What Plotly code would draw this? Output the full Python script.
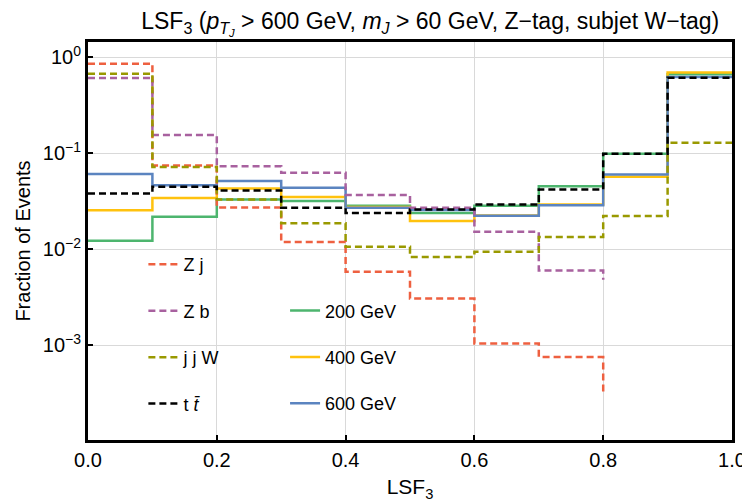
import plotly.graph_objects as go

edges = [0.0, 0.1, 0.2, 0.3, 0.4, 0.5, 0.6, 0.7, 0.8, 0.9, 1.0]

# background fractions per bin (Zj, Zb stop at 0.8 with a final drop value)
zj = [0.86, 0.0744, 0.0272, 0.0119, 0.0058, 0.00306, 0.00104, 0.00075]
zj_tail = 0.0003
zb = [0.61, 0.155, 0.073, 0.0625, 0.0366, 0.027, 0.0152, 0.006]
zb_tail = 0.0048
jjw = [0.676, 0.072, 0.033, 0.0186, 0.0106, 0.0083, 0.0094, 0.0134, 0.0222, 0.129]
ttbar = [0.0381, 0.0448, 0.041, 0.027, 0.0238, 0.0259, 0.0292, 0.0419, 0.099, 0.614]
# signal fractions
s200 = [0.0122, 0.0218, 0.033, 0.0318, 0.0283, 0.0238, 0.0283, 0.0453, 0.099, 0.665]
s400 = [0.0254, 0.0342, 0.0429, 0.035, 0.0275, 0.0197, 0.0225, 0.0292, 0.0568, 0.693]
s600 = [0.0608, 0.0464, 0.0515, 0.0437, 0.027, 0.0256, 0.0223, 0.0287, 0.0601, 0.624]

FONT = "Liberation Sans, Arial, sans-serif"
fig = go.Figure()

def step(vals, tail=None):
    if tail is None:
        return edges[:len(vals) + 1], list(vals) + [vals[-1]]
    return edges[:len(vals) + 1], list(vals) + [tail]

solid = [("200 GeV", s200, "#4DB56E"), ("400 GeV", s400, "#FFC20E"), ("600 GeV", s600, "#5B84C0")]
for i, (name, vals, col) in enumerate(solid):
    x, y = step(vals)
    fig.add_trace(go.Scatter(x=x, y=y, mode="lines", line=dict(shape="hv", color=col, width=2.5),
                             name=name, legend="legend2", legendgroup=name, legendrank=i + 1))

dashed = [("Z j", zj, zj_tail, "#EE6040"), ("Z b", zb, zb_tail, "#A8619F"),
          ("j j W", jjw, None, "#999900"), ("t <i>t&#772;</i>", ttbar, None, "#000000")]
for i, (name, vals, tail, col) in enumerate(dashed):
    x, y = step(vals, tail)
    fig.add_trace(go.Scatter(x=x, y=y, mode="lines",
                             line=dict(shape="hv", color=col, width=2.5, dash="7px,4px"),
                             name=name, legend="legend", legendgroup=name, legendrank=i + 1))

legstyle = dict(bgcolor="rgba(0,0,0,0)", font=dict(family=FONT, size=18, color="black"),
                traceorder="grouped", tracegroupgap=20, xanchor="left", yanchor="top")
fig.update_layout(
    width=750, height=502,
    margin=dict(l=80, r=26, t=34, b=70),
    paper_bgcolor="white", plot_bgcolor="white",
    font=dict(family=FONT, size=20, color="black"),
    title=dict(text="LSF<sub>3</sub> (<i>p</i><sub><i>T</i><sub><i>J</i></sub></sub> &gt; 600 GeV, <i>m</i><sub><i>J</i></sub> &gt; 60 GeV, Z\u2212tag, subjet W\u2212tag)",
               x=0.563, xanchor="center", y=0.974, yanchor="middle", font=dict(size=23)),
    legend=dict(x=0.086, y=0.487, **legstyle),
    legend2=dict(x=0.306, y=0.371, **legstyle),
    xaxis=dict(range=[0, 1], tickvals=[0, 0.2, 0.4, 0.6, 0.8, 1.0],
               ticktext=["0.0", "0.2", "0.4", "0.6", "0.8", "1.0"],
               showgrid=True, gridcolor="#D9D9D9", gridwidth=1,
               ticks="inside", ticklen=5, tickwidth=2, tickcolor="black",
               showline=True, linecolor="black", linewidth=3, mirror=True,
               title=dict(text="LSF<sub>3</sub>", font=dict(size=21), standoff=10),
               tickfont=dict(size=20), zeroline=False),
    yaxis=dict(type="log", range=[-3.99, 0.16], tickvals=[1, 0.1, 0.01, 0.001],
               ticktext=["10<sup>0</sup>", "10<sup>\u22121</sup>", "10<sup>\u22122</sup>", "10<sup>\u22123</sup>"],
               showgrid=True, gridcolor="#D9D9D9", gridwidth=1,
               ticks="inside", ticklen=5, tickwidth=2, tickcolor="black",
               showline=True, linecolor="black", linewidth=3, mirror=True,
               title=dict(text="Fraction of Events", font=dict(size=20), standoff=7),
               tickfont=dict(size=20), zeroline=False),
)
fig.write_html("out.html")
